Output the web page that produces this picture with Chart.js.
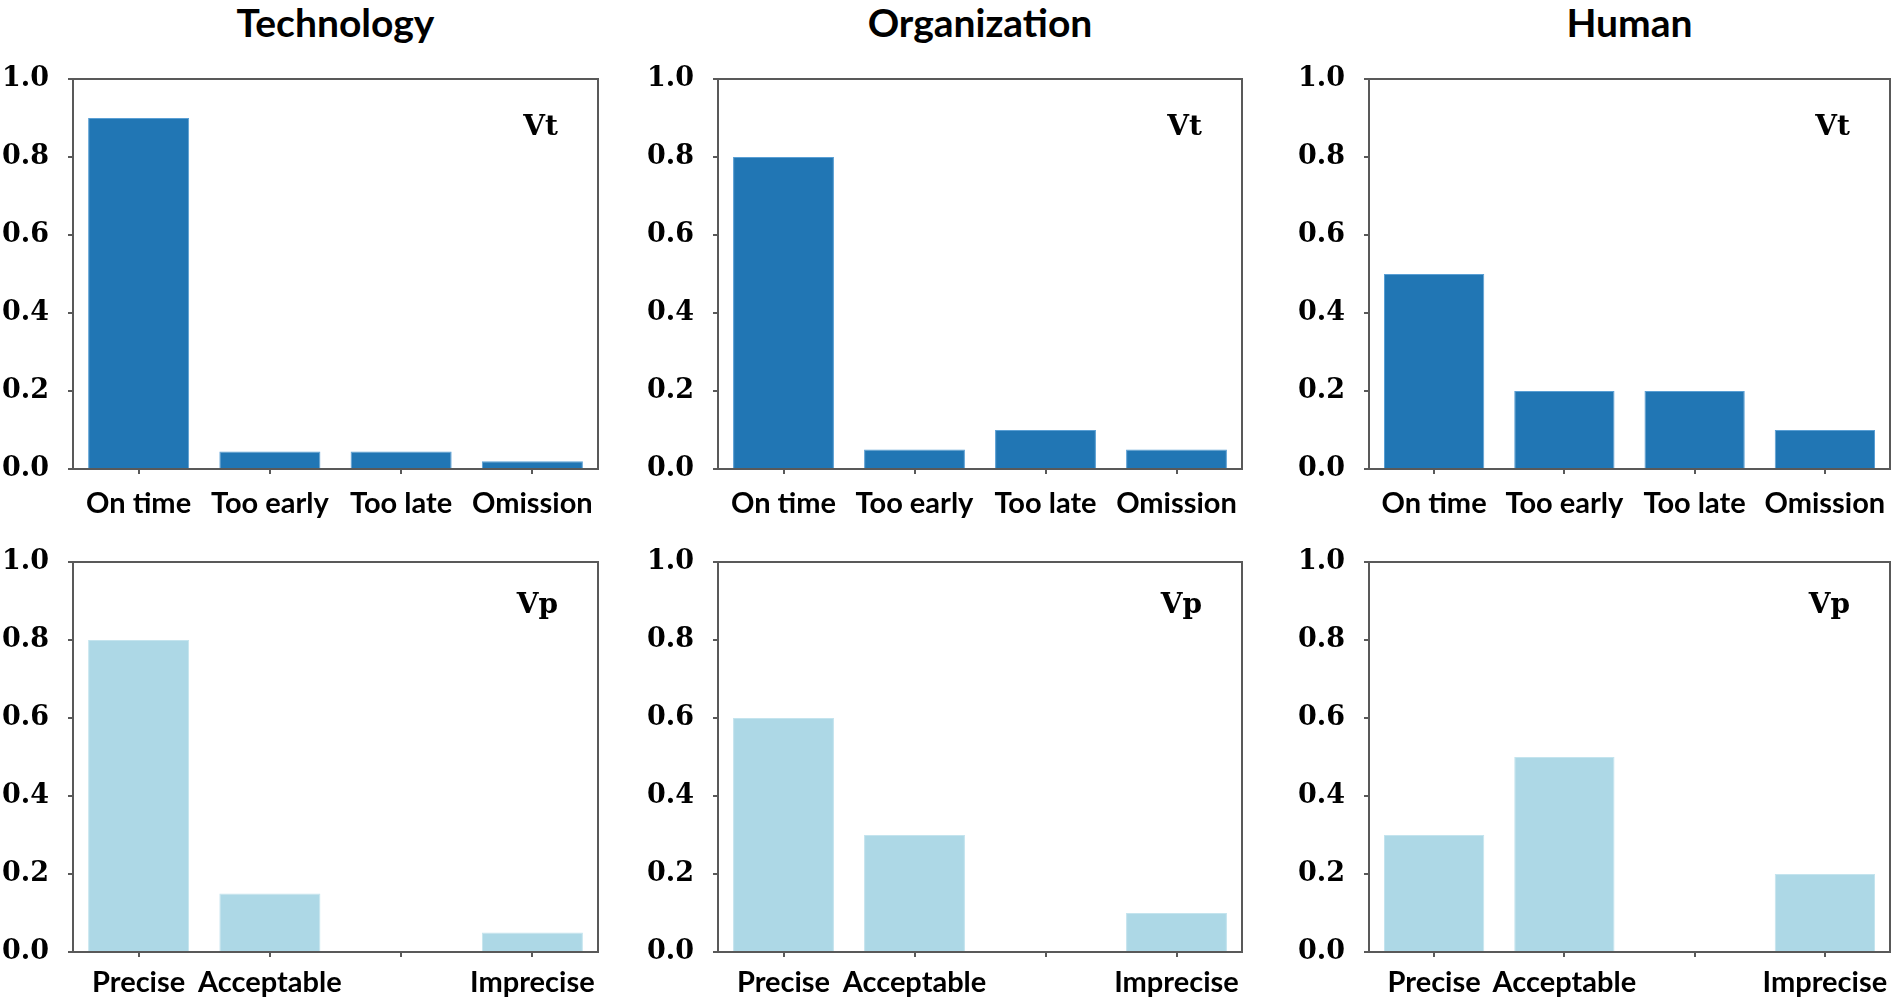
<!DOCTYPE html>
<html>
<head>
<meta charset="utf-8">
<script src="https://cdn.jsdelivr.net/npm/chart.js@4/dist/chart.umd.min.js"></script>
<style>
  html, body { margin: 0; padding: 0; background: #fff; }
  #wrap { position: relative; width: 1900px; height: 1006px; overflow: hidden; background: #fff; }
  canvas { position: absolute; }
  .ttl { position: absolute; top: 0; font-family: Lato, "Open Sans", sans-serif; font-weight: 700; font-size: 39px; color: #000; text-align: center; line-height: 44px; }
</style>
</head>
<body>
<div id="wrap"></div>
<script>
// ---- data ----
const panelTitles = ['Technology', 'Organization', 'Human'];
const categoriesVt = ['On time', 'Too early', 'Too late', 'Omission'];
const categoriesVp = ['Precise', 'Acceptable', '', 'Imprecise'];
const technologyVt = [0.9, 0.045, 0.045, 0.02];
const organizationVt = [0.8, 0.05, 0.1, 0.05];
const humanVt = [0.5, 0.2, 0.2, 0.1];
const technologyVp = [0.8, 0.15, null, 0.05];
const organizationVp = [0.6, 0.3, null, 0.1];
const humanVp = [0.3, 0.5, null, 0.2];
const rowTags = ['Vt', 'Vp'];
const yTicks = [0, 0.2, 0.4, 0.6, 0.8, 1.0];

// ---- layout / style ----
const colBoxLeft = [73, 718, 1369];
const colBoxRight = [598, 1242, 1890];
const rowBoxTop = [79, 562];
const rowBoxBottom = [469, 952];
const yAxisW = 73, padTop = 24, padRight = 8, xAxisH = 54, padBottom = 6;
const darkBlue = '#2176b4';
const lightBlue = '#add8e6';
const frameColor = '#595959';

const wrap = document.getElementById('wrap');
panelTitles.forEach((t, c) => {
  const d = document.createElement('div');
  d.className = 'ttl';
  d.textContent = t;
  const cx = (colBoxLeft[c] + colBoxRight[c]) / 2;
  d.style.left = (cx - 200) + 'px';
  d.style.width = '400px';
  wrap.appendChild(d);
});

const framePlugin = {
  id: 'frame',
  afterDatasetsDraw(chart, args, opts) {
    const a = chart.chartArea, ctx = chart.ctx;
    ctx.save();
    ctx.strokeStyle = frameColor;
    ctx.lineWidth = 2;
    ctx.strokeRect(a.left, a.top, a.right - a.left, a.bottom - a.top);
    ctx.fillStyle = '#000';
    ctx.font = 'bold 28px "DejaVu Serif", serif';
    ctx.textAlign = 'right';
    ctx.textBaseline = 'alphabetic';
    ctx.fillText(opts.tag, a.right - 40, a.top + opts.tagDy);
    ctx.restore();
  }
};

const seriesGrid = [[technologyVt, organizationVt, humanVt], [technologyVp, organizationVp, humanVp]];

for (let r = 0; r < 2; r++) {
  for (let c = 0; c < 3; c++) {
    const cv = document.createElement('canvas');
    const boxW = colBoxRight[c] - colBoxLeft[c];
    const boxH = rowBoxBottom[r] - rowBoxTop[r];
    const W = yAxisW + boxW + padRight;
    const H = padTop + boxH + xAxisH + padBottom;
    cv.width = W; cv.height = H;
    cv.style.width = W + 'px'; cv.style.height = H + 'px';
    cv.style.left = (colBoxLeft[c] - yAxisW) + 'px';
    cv.style.top = (rowBoxTop[r] - padTop) + 'px';
    wrap.appendChild(cv);
    const isVt = r === 0;
    const chart = new Chart(cv, {
      type: 'bar',
      data: {
        labels: isVt ? categoriesVt : categoriesVp,
        datasets: [{
          data: seriesGrid[r][c],
          backgroundColor: isVt ? darkBlue : lightBlue,
          borderColor: isVt ? '#5a9fd4' : '#c4e4ee',
          borderWidth: 1,
          barPercentage: 0.77,
          categoryPercentage: 1.0
        }]
      },
      options: {
        responsive: false,
        animation: false,
        devicePixelRatio: 1,
        layout: { padding: { top: padTop, right: padRight, left: 0, bottom: padBottom } },
        plugins: {
          legend: { display: false },
          tooltip: { enabled: false },
          frame: { tag: rowTags[r], tagDy: isVt ? 56 : 51 }
        },
        scales: {
          x: {
            afterFit(s) { s.height = xAxisH; s.paddingLeft = 0; s.paddingRight = 0; },
            grid: { display: true, offset: false, drawOnChartArea: false, drawTicks: true, tickLength: 5, color: frameColor, lineWidth: 2 },
            border: { display: true, color: frameColor, width: 2 },
            ticks: {
              color: '#000',
              padding: isVt ? 12 : 8,
              maxRotation: 0, autoSkip: false,
              font: { family: 'Lato, "Open Sans", sans-serif', weight: 'bold', size: 29 }
            }
          },
          y: {
            min: 0, max: 1,
            afterFit(s) { s.width = yAxisW; s.paddingTop = 0; s.paddingBottom = 0; },
            afterBuildTicks(s) { s.ticks = yTicks.map(v => ({ value: v })); },
            grid: { display: true, drawOnChartArea: false, drawTicks: true, tickLength: 5, color: frameColor, lineWidth: 2 },
            border: { display: true, color: frameColor, width: 2 },
            ticks: {
              color: '#000',
              padding: 19,
              callback: v => Number(v).toFixed(1),
              font: { family: '"DejaVu Serif", serif', weight: 'bold', size: 27 }
            }
          }
        }
      },
      plugins: [framePlugin]
    });
    // align the plot area exactly with the intended frame
    const a = chart.chartArea;
    const p = chart.options.layout.padding;
    const want = { left: yAxisW, top: padTop, right: yAxisW + boxW, bottom: padTop + boxH };
    chart.options.layout.padding = {
      top: p.top + (want.top - a.top),
      left: p.left + (want.left - a.left),
      right: p.right + (a.right - want.right),
      bottom: p.bottom + (a.bottom - want.bottom)
    };
    chart.update();
  }
}
</script>
</body>
</html>
